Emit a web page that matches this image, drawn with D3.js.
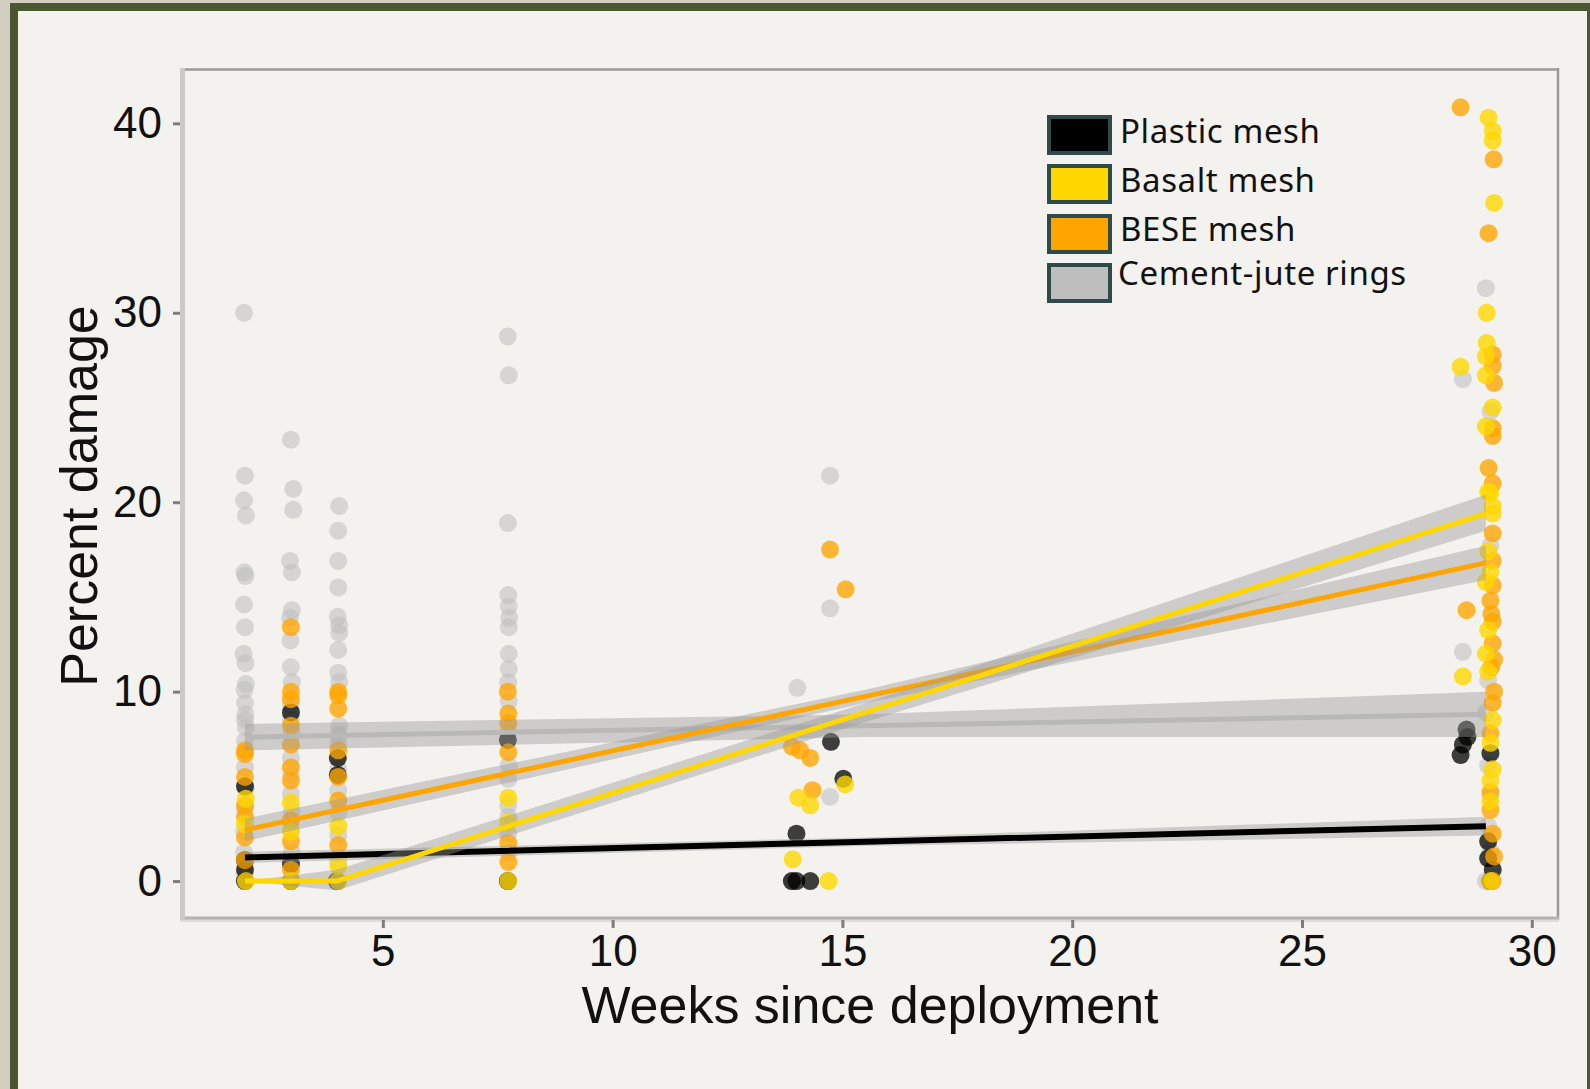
<!DOCTYPE html>
<html>
<head>
<meta charset="utf-8">
<script src="https://cdn.jsdelivr.net/npm/d3@7"></script>
<style>
  body { margin: 0; background: #d2cfc1; }
  svg { display: block; }
</style>
</head>
<body>
<script>
// weeks since deployment / percent damage, one pair per point

const cementPts = [
  [1.98,30.0],[2.0,21.4],[1.98,20.1],[2.02,19.3],[1.99,16.3],[2.01,16.1],[1.98,14.6],[2.0,13.4],
  [1.97,12.0],[2.01,11.5],[2.02,10.4],[1.99,10.1],[2.0,9.4],[2.01,8.8],[2.0,8.5],[2.02,8.1],
  [2.0,7.4],[2.0,6.0],[2.02,4.9],[2.0,3.8],[1.98,2.6],[1.98,1.5],[2.0,0.3],[2.0,0],
  [3.0,23.3],[3.05,20.7],[3.05,19.6],[2.98,16.9],[3.02,16.3],[3.02,14.3],[2.98,13.9],[2.99,12.7],
  [3.0,11.3],[3.02,10.5],[3.0,9.3],[3.0,8.5],[3.02,7.8],[3.0,6.5],[3.0,5.6],[3.0,4.6],[3.02,3.7],
  [3.0,2.7],[3.02,1.5],[3.0,0],
  [4.05,19.8],[4.03,18.5],[4.03,16.9],[4.03,15.5],[4.02,13.95],[4.05,13.5],[4.05,13.1],[4.03,12.2],
  [4.03,11.0],[4.05,10.5],[4.05,8.2],[4.03,7.7],[4.03,7.2],[4.03,5.9],[4.03,4.8],[4.03,3.6],
  [4.03,2.4],[4.03,1.0],[4.03,0],
  [7.72,28.75],[7.74,26.7],[7.72,18.9],[7.73,15.1],[7.74,14.5],[7.75,13.9],[7.74,13.4],[7.74,12.0],
  [7.74,11.2],[7.73,10.5],[7.74,9.5],[7.73,7.9],[7.74,6.1],[7.73,5.4],[7.73,4.0],[7.73,3.4],
  [7.73,2.5],[7.73,1.5],[7.73,0],
  [14.73,21.4],[14.73,14.4],[14.02,10.2],[14.73,4.45],[13.9,0],
  [29.0,31.3],[28.5,26.5],[28.5,12.1],[29.1,24.8],[29.1,17.7],[29.05,10.6],[29.05,6.1],
  [29.05,2.9],[29.1,1.6],[29.0,0],[29.1,4.5],[29.0,8.9]
];

const plasticPts = [
  [2.0,5.0],[2.0,1.1],[2.0,0.6],[2.0,0],
  [3.0,8.9],[3.0,0.9],[3.0,0],
  [4.02,6.5],[4.02,5.6],[4.0,0],
  [7.72,7.45],[7.72,0],
  [14.75,7.35],[15.02,5.4],[14.0,2.5],[13.9,0],[14.0,0],[14.3,0],
  [28.58,8.0],[28.6,7.6],[28.5,7.2],[28.45,6.65],[29.1,6.75],[29.05,2.1],[29.05,1.2],[29.1,0],[29.15,0.6]
];

const basaltPts = [
  [2.02,4.35],[2.0,3.0],[2.02,0],
  [3.0,4.15],[3.0,2.6],[3.0,0],
  [4.03,2.9],[4.03,0.8],[4.03,0],
  [7.73,4.4],[7.73,3.1],[7.73,0],
  [15.06,5.1],[14.04,4.4],[14.3,4.0],[13.92,1.15],[14.7,0],
  [29.06,40.3],[29.15,39.6],[29.15,39.1],[29.18,35.8],[29.02,30.0],[29.02,28.4],[29.0,27.7],
  [28.45,27.15],[29.0,26.7],[29.15,25.0],[29.0,24.0],[29.05,20.55],[29.15,19.8],[29.1,20.5],
  [29.15,19.4],[29.05,17.4],[29.1,16.3],[29.0,15.8],[29.05,13.25],[29.0,12.0],[28.5,10.8],
  [29.05,11.05],[29.15,8.5],[29.1,7.3],[29.15,5.9],[29.1,4.2],[29.1,5.3],[29.1,0]
];

const besePts = [
  [2.0,6.7],[2.0,6.9],[2.0,5.5],[2.0,4.0],[2.0,3.4],[2.0,2.3],[2.0,1.1],
  [3.0,13.4],[3.0,10.0],[3.0,9.6],[3.0,8.2],[3.0,7.2],[3.0,6.0],[3.0,5.3],[3.0,3.2],[3.0,2.1],[3.0,0.6],
  [4.03,10.0],[4.03,9.8],[4.03,9.1],[4.03,5.5],[4.03,4.25],[4.03,1.9],[4.03,6.9],
  [7.72,10.0],[7.73,8.85],[7.73,8.35],[7.73,6.8],[7.73,2.0],[7.73,1.0],
  [14.73,17.5],[15.07,15.4],[13.9,7.1],[14.08,6.9],[14.3,6.5],[14.35,4.8],
  [28.45,40.85],[29.17,38.1],[29.06,34.2],[29.15,27.8],[29.15,27.2],[29.18,26.3],[29.15,23.9],
  [29.15,23.5],[29.06,21.8],[29.15,21.0],[29.15,18.35],[29.15,16.9],[29.15,15.6],[28.58,14.3],
  [29.1,14.8],[29.12,14.1],[29.15,13.7],[29.15,12.55],[29.18,11.7],[29.12,11.3],[29.18,10.0],
  [29.15,9.4],[29.1,7.8],[29.1,4.7],[29.1,3.75],[29.15,2.5],[29.18,1.3],[29.15,0]
];

// fitted trend lines with their confidence band: [week, fit, low, high]
const cementFit  = [[2,7.6,6.9,8.3],[15.5,8.2,7.6,8.8],[29,8.8,7.6,10.0]];
const plasticFit = [[2,1.25,0.95,1.55],[15.5,2.08,1.85,2.3],[29,2.9,2.4,3.4]];
const basaltFit  = [[2,0,0,0],[4,0,-0.5,0.6],[15.5,8.9,8.4,9.4],[29,19.4,18.5,20.4]];
const beseFit    = [[2,2.7,2.1,3.3],[15.5,9.75,9.4,10.1],[29,16.8,15.9,17.7]];

const xTicks = [5, 10, 15, 20, 25, 30];
const yTicks = [0, 10, 20, 30, 40];

const legendNames = ["Plastic mesh", "Basalt mesh", "BESE mesh", "Cement-jute rings"];
const legendColors = ["#000000", "#FFD700", "#FFA500", "#BEBEBE"];

const W = 1590, H = 1089;
const panel = {left: 182, right: 1558, top: 69, bottom: 918};

const svg = d3.select("body").append("svg")
  .attr("width", W).attr("height", H);

// frame
svg.append("rect").attr("width", W).attr("height", H).attr("fill", "#d2cfc1");
svg.append("rect").attr("x", 10).attr("y", 3).attr("width", W).attr("height", H + 20).attr("fill", "#4b5632");
svg.append("rect").attr("x", 18).attr("y", 11).attr("width", 1569).attr("height", H + 20).attr("fill", "#f3f2ee");

var x = d3.scaleLinear().domain([0.63, 30.57]).range([panel.left, panel.right]);
var y = d3.scaleLinear().domain([-1.95, 42.87]).range([panel.bottom, panel.top]);

// panel borders
svg.append("line").attr("x1", 183).attr("x2", 1559).attr("y1", 69.5).attr("y2", 69.5)
  .attr("stroke", "#9a9a98").attr("stroke-width", 2.5);
svg.append("line").attr("x1", 1558).attr("x2", 1558).attr("y1", 68).attr("y2", 920)
  .attr("stroke", "#9a9a98").attr("stroke-width", 2.5);
svg.append("line").attr("x1", 180).attr("x2", 1559).attr("y1", 920.5).attr("y2", 920.5)
  .attr("stroke", "#dcdcd8").attr("stroke-width", 3);
svg.append("line").attr("x1", 180).attr("x2", 1559).attr("y1", 918).attr("y2", 918)
  .attr("stroke", "#b2b2b0").attr("stroke-width", 3);
svg.append("line").attr("x1", 182.5).attr("x2", 182.5).attr("y1", 68).attr("y2", 920)
  .attr("stroke", "#cacac6").attr("stroke-width", 5);

// points
function drawPoints(pts, fill, op) {
  svg.append("g").selectAll("circle")
    .data(pts)
    .enter()
    .append("circle")
    .attr("cx", function (d) { return x(d[0]); })
    .attr("cy", function (d) { return y(d[1]); })
    .attr("r", 9)
    .attr("fill", fill)
    .attr("fill-opacity", op);
}
drawPoints(cementPts, "#BEBEBE", 0.55);
drawPoints(plasticPts, "#000000", 0.75);
drawPoints(besePts, "#FFA500", 0.78);
drawPoints(basaltPts, "#FFD700", 0.8);

// trend lines and bands
var band = d3.area()
  .x(function (d) { return x(d[0]); })
  .y0(function (d) { return y(d[2]); })
  .y1(function (d) { return y(d[3]); });
var trend = d3.line()
  .x(function (d) { return x(d[0]); })
  .y(function (d) { return y(d[1]); });

function drawFit(fit, color, width) {
  svg.append("path").datum(fit).attr("d", band)
    .attr("fill", "#999999").attr("fill-opacity", 0.42);
  svg.append("path").datum(fit).attr("d", trend)
    .attr("fill", "none").attr("stroke", color).attr("stroke-width", width);
}
drawFit(cementFit, "#b8b8b6", 5);
drawFit(plasticFit, "#000000", 6);
drawFit(beseFit, "#FFA500", 5);
drawFit(basaltFit, "#FFD700", 5);

// axes
var xAxis = d3.axisBottom(x).tickValues(xTicks).tickSize(8).tickPadding(7);
var yAxis = d3.axisLeft(y).tickValues(yTicks).tickSize(7).tickPadding(11);

var gx = svg.append("g").attr("transform", "translate(0,920)").call(xAxis);
var gy = svg.append("g").attr("transform", "translate(180,0)").call(yAxis);
[gx, gy].forEach(function (g) {
  g.select(".domain").remove();
  g.selectAll(".tick line").attr("stroke", "#7d7d7d").attr("stroke-width", 3);
  g.selectAll(".tick text")
    .attr("fill", "#111")
    .style("font-family", "'Liberation Sans', Arial, sans-serif")
    .style("font-size", "44px");
});

svg.append("text")
  .attr("x", 870).attr("y", 1023)
  .attr("text-anchor", "middle")
  .style("font-family", "'Liberation Sans', Arial, sans-serif")
  .style("font-size", "52px")
  .attr("fill", "#111")
  .text("Weeks since deployment");

svg.append("text")
  .attr("transform", "translate(97,496) rotate(-90)")
  .attr("text-anchor", "middle")
  .style("font-family", "'Liberation Sans', Arial, sans-serif")
  .style("font-size", "52px")
  .attr("fill", "#111")
  .text("Percent damage");

// legend
const legendTop = [115, 164, 214, 263];
const legendBase = [143, 192, 241, 285];
var lg = svg.append("g");
legendNames.forEach(function (name, i) {
  lg.append("rect")
    .attr("x", 1049).attr("y", legendTop[i] + 2)
    .attr("width", 61).attr("height", 36)
    .attr("fill", legendColors[i])
    .attr("stroke", "#2f4a48").attr("stroke-width", 4);
  lg.append("text")
    .attr("x", i == 3 ? 1118 : 1120).attr("y", legendBase[i])
    .style("font-family", "'Noto Sans', sans-serif")
    .style("font-size", "33px")
    .style("letter-spacing", "0.6px")
    .attr("fill", "#111")
    .text(name);
});
</script>
</body>
</html>
